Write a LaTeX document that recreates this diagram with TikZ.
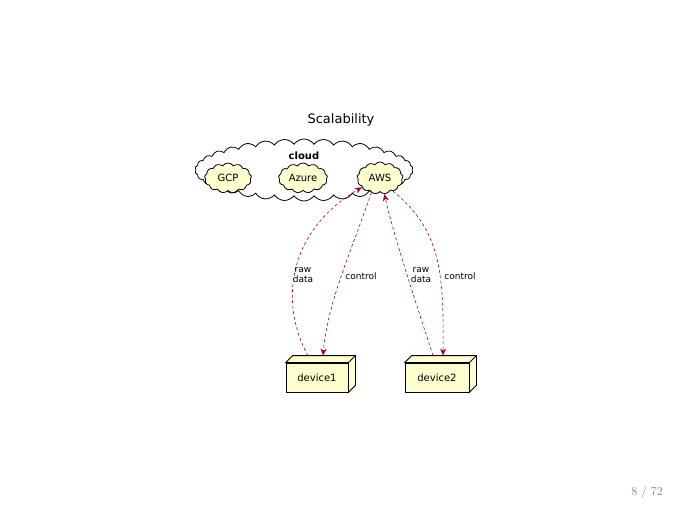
\documentclass[tikz,border=0pt]{standalone}
\usepackage{fontspec}
\newfontfamily\dejavu{DejaVu Sans}
\usetikzlibrary{shapes.symbols,arrows.meta,calc}
\definecolor{puyellow}{HTML}{FEFECE}
\definecolor{pured}{HTML}{A80036}
\tikzset{
  outercloud/.style={cloud, cloud puffs=34, cloud puff arc=110, aspect=3.6, draw=black, line width=0.8pt, fill=white, inner sep=0pt, minimum width=218pt, minimum height=62pt},
  innercloud/.style={cloud, cloud puffs=13, cloud puff arc=110, aspect=1.6, draw=black, line width=0.8pt, fill=puyellow, inner sep=0pt, font=\dejavu\fontsize{10}{12}\selectfont},
  devbox/.style={draw=black, line width=0.8pt, fill=puyellow, minimum height=29pt, inner sep=0pt, font=\dejavu\fontsize{10}{12}\selectfont},
  flow/.style={draw=pured, line width=0.6pt, dash pattern=on 3pt off 2.5pt, -{Stealth[length=7pt,width=6pt,inset=2pt]}},
  lbl/.style={font=\dejavu\fontsize{9}{10.5}\selectfont, align=center, inner sep=0pt},
}
\begin{document}
\begin{tikzpicture}[x=1pt,y=-1pt]
\useasboundingbox (0,0) rectangle (681,511);
\node[font=\dejavu\fontsize{13}{15}\selectfont] (title) at (341,120) {Scalability};
\node[outercloud] (cloud) at (304,170) {};
\node[font=\dejavu\bfseries\fontsize{10}{12}\selectfont] (cloudlbl) at (304,156) {cloud};
\node[innercloud, minimum width=47pt, minimum height=30pt] (gcp) at (228,178) {GCP};
\node[innercloud, minimum width=49pt, minimum height=30pt] (azure) at (303,178) {Azure};
\node[innercloud, minimum width=46pt, minimum height=32pt] (aws) at (380,178) {AWS};
% devices
\foreach \n/\x/\w/\t in {d1/317/62/device1, d2/437/64/device2}{
  \node[devbox, minimum width=\w pt] (\n) at (\x,377.5) {\t};
  \draw[line width=0.8pt, fill=puyellow] (\n.north west) -- ++(7,-7) -- ($(\n.north east)+(7,-7)$) -- ($(\n.south east)+(7,-7)$) -- (\n.south east) -- (\n.north east) -- cycle;
  \draw[line width=0.8pt] (\n.north east) -- ++(7,-7);
}
% connectors
\draw[flow] ($(d1.north)+(-9,-7)$) .. controls (282,310) and (282,235) .. (aws.207);
\draw[flow] (aws.239) .. controls (352,250) and (328,300) .. ($(d1.north)+(6,-7)$);
\draw[flow] ($(d2.north)+(-4,-7)$) .. controls (415,300) and (395,240) .. (aws.285);
\draw[flow] (aws.315) .. controls (440,230) and (444,270) .. ($(d2.north)+(6,-7)$);
\node[lbl] (l1) at (303,275) {raw\\data};
\node[lbl] (l2) at (361,276) {control};
\node[lbl] (l3) at (421,275) {raw\\data};
\node[lbl] (l4) at (460,276) {control};
\node[text=gray, font=\fontsize{12}{14}\selectfont] (page) at (647,492) {8 / 72};
\end{tikzpicture}
\end{document}
